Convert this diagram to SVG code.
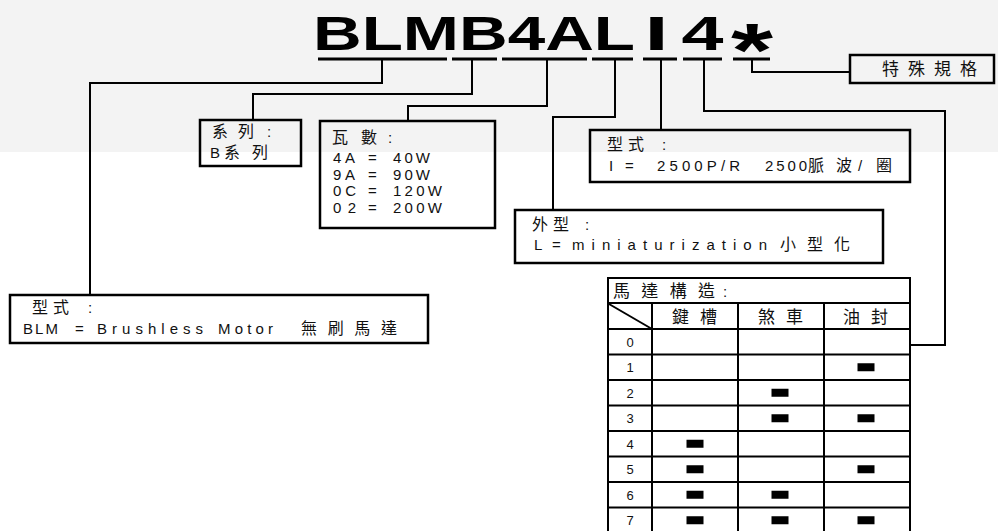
<svg xmlns="http://www.w3.org/2000/svg" width="998" height="531" viewBox="0 0 998 531">
<style>
.ln{stroke:#000;stroke-width:2;fill:none}
.ul{stroke:#000;stroke-width:3;fill:none}
.box{fill:none;stroke:#000;stroke-width:2.5}
.grid{stroke:#000;stroke-width:2;fill:none}
.t{font-family:"Liberation Sans","Noto Sans CJK TC",sans-serif;font-size:15px;fill:#111}
.c{font-family:"Noto Sans CJK TC",sans-serif;font-size:16px;fill:#111}
.h{font-family:"Noto Sans CJK TC",sans-serif;font-size:17px;fill:#111}
.d{font-family:"Liberation Sans",sans-serif;font-size:13px;fill:#111;text-anchor:middle}
.title{font-family:"Liberation Sans",sans-serif;font-weight:bold;font-size:49px;fill:#000}
.mk{fill:#000}
</style>
<rect x="0" y="0" width="998" height="531" fill="#fff"/>
<rect x="0" y="0" width="998" height="152" fill="#f3f3f3"/>

<g id="title">
<text class="title" x="313" y="50" textLength="322" lengthAdjust="spacingAndGlyphs">BLMB4AL</text>
<text class="title" x="644.5" y="50" textLength="24" lengthAdjust="spacingAndGlyphs">I</text>
<text class="title" x="681.5" y="50" textLength="42" lengthAdjust="spacingAndGlyphs">4</text>
<text class="title" x="731" y="76" style="font-size:76px" textLength="42" lengthAdjust="spacingAndGlyphs">*</text>
<path class="ul" d="M318,59H447M452,59H497M502,59H587M592,59H633M643,59H677M683,59H722M733,59H770"/>
</g>

<g id="connectors">
<path class="ln" d="M382,59V83H90V295"/>
<path class="ln" d="M472,59V94H253V120"/>
<path class="ln" d="M547,59V106H408V121"/>
<path class="ln" d="M615,59V117H553V210"/>
<path class="ln" d="M661,59V130"/>
<path class="ln" d="M704,59V111H945V345H910"/>
<path class="ln" d="M752,59V72H850"/>
</g>

<g id="special">
<rect class="box" x="850" y="55" width="144" height="28"/>
<text class="c" x="882" y="75" style="font-size:17px" textLength="95" lengthAdjust="spacing">特殊規格</text>
</g>

<g id="series">
<rect class="box" x="200" y="120" width="101" height="46"/>
<text class="c" x="212" y="137" textLength="42" lengthAdjust="spacing">系列</text>
<text class="t" x="267" y="137">:</text>
<text class="t" x="210" y="158">B</text>
<text class="c" x="224" y="158" textLength="44" lengthAdjust="spacing">系列</text>
</g>

<g id="wattage">
<rect class="box" x="320" y="121" width="175" height="107"/>
<text class="c" x="332" y="143" textLength="45" lengthAdjust="spacing">瓦數</text>
<text class="t" x="388" y="143">:</text>
<text class="t" x="333" y="163" textLength="22" lengthAdjust="spacing">4A</text>
<text class="t" x="368" y="163">=</text>
<text class="t" x="393" y="163" textLength="37" lengthAdjust="spacing">40W</text>
<text class="t" x="333" y="179.5" textLength="22" lengthAdjust="spacing">9A</text>
<text class="t" x="368" y="179.5">=</text>
<text class="t" x="393" y="179.5" textLength="37" lengthAdjust="spacing">90W</text>
<text class="t" x="333" y="196" textLength="23" lengthAdjust="spacing">0C</text>
<text class="t" x="368" y="196">=</text>
<text class="t" x="393" y="196" textLength="49" lengthAdjust="spacing">120W</text>
<text class="t" x="333" y="212.5" textLength="23" lengthAdjust="spacing">02</text>
<text class="t" x="368" y="212.5">=</text>
<text class="t" x="393" y="212.5" textLength="49" lengthAdjust="spacing">200W</text>
</g>

<g id="encoder">
<rect class="box" x="590" y="130" width="320" height="52"/>
<text class="c" x="607" y="150" textLength="37" lengthAdjust="spacing">型式</text>
<text class="t" x="662" y="150">:</text>
<text class="t" x="609" y="171">I</text>
<text class="t" x="625" y="171">=</text>
<text class="t" x="657" y="171" textLength="83" lengthAdjust="spacing">2500P/R</text>
<text class="t" x="765" y="171" textLength="42" lengthAdjust="spacing">2500</text>
<text class="c" x="808" y="171" textLength="44" lengthAdjust="spacing">脈波</text>
<text class="t" x="858" y="171">/</text>
<text class="c" x="876" y="171">圈</text>
</g>

<g id="shape">
<rect class="box" x="515" y="210" width="368" height="53"/>
<text class="c" x="532" y="230" textLength="37" lengthAdjust="spacing">外型</text>
<text class="t" x="585" y="230">:</text>
<text class="t" x="534" y="250">L</text>
<text class="t" x="552" y="250">=</text>
<text class="t" x="572" y="250" textLength="195" lengthAdjust="spacing">miniaturization</text>
<text class="c" x="780" y="250" textLength="70" lengthAdjust="spacing">小型化</text>
</g>

<g id="motor-type">
<rect class="box" x="10" y="295" width="418" height="48"/>
<text class="c" x="32" y="313" textLength="37" lengthAdjust="spacing">型式</text>
<text class="t" x="88" y="313">:</text>
<text class="t" x="23" y="334" textLength="35" lengthAdjust="spacing">BLM</text>
<text class="t" x="75" y="334">=</text>
<text class="t" x="97" y="334" textLength="106" lengthAdjust="spacing">Brushless</text>
<text class="t" x="218" y="334" textLength="55" lengthAdjust="spacing">Motor</text>
<text class="c" x="301" y="334" textLength="96" lengthAdjust="spacing">無刷馬達</text>
</g>

<g id="structure-table">
<rect class="grid" x="608" y="278" width="302" height="255"/>
<path class="grid" d="M608,303H910M608,329H910M608,354.5H910M608,380H910M608,405.5H910M608,431H910M608,456.5H910M608,482H910M608,507.5H910"/>
<path class="grid" d="M652,303V533M738,303V533M824,303V533"/>
<path class="grid" d="M609,304L652,329"/>
<text class="h" x="613" y="297" textLength="102" lengthAdjust="spacing">馬達構造</text>
<text class="t" x="723" y="297">:</text>
<text class="h" x="672" y="323" textLength="45" lengthAdjust="spacing">鍵槽</text>
<text class="h" x="758" y="323" textLength="45" lengthAdjust="spacing">煞車</text>
<text class="h" x="843" y="323" textLength="45" lengthAdjust="spacing">油封</text>
<text class="d" x="630" y="346.5">0</text>
<text class="d" x="630" y="372">1</text>
<text class="d" x="630" y="397.5">2</text>
<text class="d" x="630" y="423">3</text>
<text class="d" x="630" y="448.5">4</text>
<text class="d" x="630" y="474">5</text>
<text class="d" x="630" y="499.5">6</text>
<text class="d" x="630" y="525">7</text>
<rect class="mk" x="857.5" y="363.25" width="17" height="8"/>
<rect class="mk" x="771.5" y="388.75" width="17" height="8"/>
<rect class="mk" x="771.5" y="414.25" width="17" height="8"/>
<rect class="mk" x="857.5" y="414.25" width="17" height="8"/>
<rect class="mk" x="686.5" y="439.75" width="17" height="8"/>
<rect class="mk" x="686.5" y="465.25" width="17" height="8"/>
<rect class="mk" x="857.5" y="465.25" width="17" height="8"/>
<rect class="mk" x="686.5" y="490.75" width="17" height="8"/>
<rect class="mk" x="771.5" y="490.75" width="17" height="8"/>
<rect class="mk" x="686.5" y="516.25" width="17" height="8"/>
<rect class="mk" x="771.5" y="516.25" width="17" height="8"/>
<rect class="mk" x="857.5" y="516.25" width="17" height="8"/>
</g>
</svg>
